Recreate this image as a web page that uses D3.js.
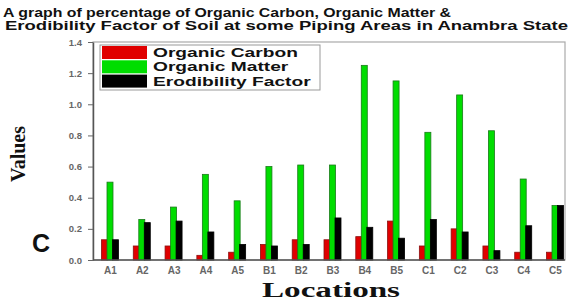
<!DOCTYPE html>
<html>
<head>
<meta charset="utf-8">
<script src="https://cdn.jsdelivr.net/npm/d3@7"></script>
<style>
  body { margin: 0; background: #fff; }
  svg { display: block; }
</style>
</head>
<body>
<svg id="chart"></svg>
<script>
// data
const locations = ["A1","A2","A3","A4","A5","B1","B2","B3","B4","B5","C1","C2","C3","C4","C5"];
const organicCarbon = [0.13,0.09,0.09,0.03,0.05,0.10,0.13,0.13,0.15,0.25,0.09,0.20,0.09,0.05,0.05];
const organicMatter = [0.50,0.26,0.34,0.55,0.38,0.60,0.61,0.61,1.25,1.15,0.82,1.06,0.83,0.52,0.35];
const erodibility   = [0.13,0.24,0.25,0.18,0.10,0.09,0.10,0.27,0.21,0.14,0.26,0.18,0.06,0.22,0.35];
const seriesNames = ["Organic Carbon","Organic Matter","Erodibility Factor"];
const yTicks = [0.0,0.2,0.4,0.6,0.8,1.0,1.2,1.4];
const titleLines = ["A graph of percentage of Organic Carbon, Organic Matter &",
                    "Erodibility Factor of Soil at some Piping Areas in Anambra State"];

const colors = ["#e00000", "#00dd00", "#000000"];
const edges  = ["#8a1010", "#1a7a1a", "#000000"];

const W = 571, H = 300;
const svg = d3.select("#chart").attr("width", W).attr("height", H);

const rows = locations.map((loc, i) => ({
    loc: loc,
    vals: [organicCarbon[i], organicMatter[i], erodibility[i]]
}));

const x = d3.scalePoint().domain(locations).range([110, 555]);
const inner = d3.scalePoint().domain([0,1,2]).range([-5.5, 5.5]);
const y = d3.scaleLinear().domain([0, 1.4]).range([260, 42]);
const barW = 6;

// stretch helper: the original fonts are wider than what we have
function stretch(sel, factor) {
    sel.each(function() {
        const len = this.getComputedTextLength();
        d3.select(this).attr("textLength", len * factor).attr("lengthAdjust", "spacingAndGlyphs");
    });
}

// frame
svg.append("rect")
    .attr("x", 93).attr("y", 42)
    .attr("width", 565 - 93).attr("height", 260 - 42)
    .attr("fill", "none")
    .attr("stroke", "#aaa")
    .attr("stroke-width", 1.2);

// bars
const groups = svg.append("g").selectAll("g")
    .data(rows)
    .join("g")
    .attr("transform", d => `translate(${x(d.loc)},0)`);

groups.selectAll("rect")
    .data(d => d.vals.map((v, k) => ({v: v, k: k})))
    .join("rect")
    .attr("x", d => inner(d.k) - barW / 2)
    .attr("y", d => y(d.v))
    .attr("width", barW)
    .attr("height", d => y(0) - y(d.v))
    .attr("fill", d => colors[d.k])
    .attr("stroke", d => edges[d.k])
    .attr("stroke-width", 0.8);

// axes
const yAxis = d3.axisLeft(y)
    .tickValues(yTicks)
    .tickFormat(d3.format(".1f"))
    .tickSize(5)
    .tickPadding(6)
    .tickSizeOuter(0);

const yg = svg.append("g")
    .attr("transform", "translate(93,0)")
    .call(yAxis);
yg.select(".domain").attr("stroke", "#555").attr("stroke-width", 1.5);
yg.selectAll(".tick line").attr("stroke", "#666");
yg.selectAll(".tick text")
    .attr("fill", "#666")
    .style("font-family", "Liberation Sans, Arial, sans-serif")
    .style("font-size", "9.5px")
    .style("font-weight", "bold");

const xAxis = d3.axisBottom(x).tickSize(0).tickPadding(7).tickSizeOuter(0);
const xg = svg.append("g")
    .attr("transform", "translate(0,260)")
    .call(xAxis);
xg.select(".domain").attr("d", "M93,0H565").attr("stroke", "#555").attr("stroke-width", 1.5);
xg.selectAll(".tick text")
    .attr("fill", "#666")
    .style("font-family", "Liberation Sans, Arial, sans-serif")
    .style("font-size", "10px")
    .style("font-weight", "bold");

// title (the original face is much wider, so fit each line to its width)
const titleWidths = [448, 563];
svg.append("g").selectAll("text")
    .data(titleLines)
    .join("text")
    .attr("x", (d, i) => i === 0 ? 3 : 5)
    .attr("y", (d, i) => 17 + i * 13)
    .attr("textLength", (d, i) => titleWidths[i])
    .attr("lengthAdjust", "spacingAndGlyphs")
    .style("font-family", "Liberation Sans, Arial, sans-serif")
    .style("font-size", "12.5px")
    .style("font-weight", "bold")
    .attr("fill", "#111")
    .text(d => d);

// legend
const leg = svg.append("g");
leg.append("rect")
    .attr("x", 100).attr("y", 45)
    .attr("width", 220).attr("height", 45)
    .attr("fill", "#fff")
    .attr("stroke", "#999")
    .attr("stroke-width", 1);
const items = leg.selectAll("g.item")
    .data(seriesNames)
    .join("g")
    .attr("class", "item")
    .attr("transform", (d, i) => `translate(102,${46 + i * 14.3})`);
items.append("rect")
    .attr("width", 45).attr("height", 13)
    .attr("fill", (d, i) => colors[i]);
items.append("text")
    .attr("x", 51).attr("y", 11)
    .style("font-family", "Liberation Sans, Arial, sans-serif")
    .style("font-size", "13.5px")
    .style("font-weight", "bold")
    .attr("fill", "#111")
    .text(d => d)
    .call(stretch, 1.42);

// axis titles
svg.append("text")
    .attr("transform", "translate(25,154) rotate(-90)")
    .attr("text-anchor", "middle")
    .style("font-family", "Liberation Serif, Times New Roman, serif")
    .style("font-size", "20px")
    .style("font-weight", "bold")
    .attr("fill", "#111")
    .text("Values");

svg.append("text")
    .attr("x", 331).attr("y", 297)
    .attr("text-anchor", "middle")
    .attr("textLength", 138)
    .attr("lengthAdjust", "spacingAndGlyphs")
    .style("font-family", "Liberation Serif, Times New Roman, serif")
    .style("font-size", "20px")
    .style("font-weight", "bold")
    .attr("fill", "#111")
    .text("Locations");

svg.append("text")
    .attr("x", 32).attr("y", 252)
    .style("font-family", "Liberation Sans, Arial, sans-serif")
    .style("font-size", "25px")
    .style("font-weight", "bold")
    .attr("fill", "#111")
    .text("C");
</script>
</body>
</html>
